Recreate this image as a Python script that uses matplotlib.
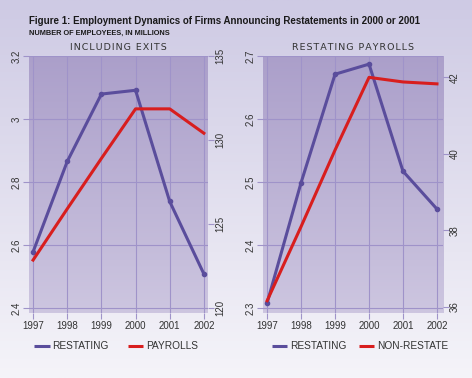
import numpy as np
import matplotlib
matplotlib.use("Agg")
import matplotlib.pyplot as plt
from matplotlib.colors import LinearSegmentedColormap
from matplotlib.lines import Line2D

plt.rcParams['font.family'] = ['Liberation Sans', 'DejaVu Sans']

years = [1997, 1998, 1999, 2000, 2001, 2002]

# left panel: including exits
incl_restating = [2.578, 2.865, 3.079, 3.091, 2.738, 2.508]
incl_payrolls = [122.85, 125.9, 128.9, 131.85, 131.85, 130.4]

# right panel: restating payrolls
pay_restating = [2.308, 2.499, 2.671, 2.687, 2.517, 2.457]
pay_nonrestate = [36.16, 38.1, 40.1, 42.0, 41.88, 41.83]

left_ticks = [2.4, 2.6, 2.8, 3.0, 3.2]
left_labels = ['2.4', '2.6', '2.8', '3', '3.2']
left_rticks = [120, 125, 130, 135]
right_ticks = [2.3, 2.4, 2.5, 2.6, 2.7]
right_labels = ['2.3', '2.4', '2.5', '2.6', '2.7']
right_rticks = [36, 38, 40, 42]

PURPLE = '#5a4d9c'
RED = '#d81e1e'
GRID = '#9f93c9'
TXT = '#333333'

fig = plt.figure(figsize=(4.72, 3.78), dpi=100)

# figure background gradient
bg = fig.add_axes([0, 0, 1, 1], zorder=-10)
bg_cmap = LinearSegmentedColormap.from_list('bg', ['#f5f4f9', '#cecae4'])
bg.imshow(np.linspace(0, 1, 256).reshape(-1, 1), cmap=bg_cmap, aspect='auto',
          origin='lower', extent=[0, 1, 0, 1])
bg.set_axis_off()

plot_cmap = LinearSegmentedColormap.from_list('pa', ['#cdc6e0', '#ab9fca'])


def make_panel(rect, title, ys_left, ys_right, xlim, ylim, rlim, lticks, llabels,
               rticks, names, leg_x, colsp):
    ax = fig.add_axes(rect)
    ax.imshow(np.linspace(0, 1, 256).reshape(-1, 1), cmap=plot_cmap, aspect='auto',
              origin='lower', extent=[0, 1, 0, 1], transform=ax.transAxes, zorder=0)
    ax.set_xlim(xlim)
    ax.set_ylim(ylim)
    for s in ax.spines.values():
        s.set_visible(False)
    ax.set_xticks(years)
    ax.set_xticklabels([str(y) for y in years])
    ax.set_yticks(lticks)
    ax.set_yticklabels(llabels, rotation=90, va='center')
    ax.tick_params(colors=GRID, labelcolor=TXT, labelsize=7, length=4, width=0.8, pad=2)
    ax.tick_params(axis='y', pad=1)
    ax.grid(True, color=GRID, linewidth=0.8)
    ax.set_axisbelow(True)
    ax.plot(years, ys_left, color=PURPLE, linewidth=2.2, marker='o',
            markersize=3, zorder=4)

    ax2 = ax.twinx()
    for s in ax2.spines.values():
        s.set_visible(False)
    ax2.set_ylim(rlim)
    ax2.set_yticks(rticks)
    ax2.set_yticklabels([str(t) for t in rticks], rotation=90, va='center')
    ax2.tick_params(colors=GRID, labelcolor=TXT, labelsize=7, length=4, width=0.8, pad=1)
    ax2.plot(years, ys_right, color=RED, linewidth=2.2, zorder=3)

    spaced = '\u200a'.join(list(title))
    ax.text(0.5, 1.014, spaced, transform=ax.transAxes, ha='center', va='bottom',
            fontsize=6.8, color=TXT, family=['DejaVu Sans'])

    leg = ax.legend([Line2D([], [], color=PURPLE, linewidth=2.2, solid_capstyle='butt'),
                     Line2D([], [], color=RED, linewidth=2.2, solid_capstyle='butt')], names,
                    loc='upper left', bbox_to_anchor=(leg_x, -0.11), ncol=2,
                    frameon=False, fontsize=7.3, handlelength=1.5, handletextpad=0.3,
                    columnspacing=colsp, borderaxespad=0, borderpad=0)
    for t in leg.get_texts():
        t.set_color(TXT)
    return ax, ax2


make_panel([0.0614, 0.172, 0.3792, 0.680], 'INCLUDING EXITS', incl_restating,
           incl_payrolls, (1996.88, 2002.12), (2.384, 3.2), (119.7, 135),
           left_ticks, left_labels, left_rticks, ['RESTATING', 'PAYROLLS'], 0.03, 1.9)

make_panel([0.5566, 0.172, 0.3814, 0.680], 'RESTATING PAYROLLS', pay_restating,
           pay_nonrestate, (1996.87, 2002.17), (2.292, 2.7), (35.84, 42.56),
           right_ticks, right_labels, right_rticks, ['RESTATING', 'NON-RESTATE'], 0.05, 1.2)

fig.text(0.0614, 0.945, 'Figure 1: Employment Dynamics of Firms Announcing Restatements in 2000 or 2001',
         fontsize=7.0, fontweight='bold', color='#1a1a1a', va='center')
fig.text(0.0614, 0.912, 'NUMBER OF EMPLOYEES, IN MILLIONS', fontsize=5.3,
         fontweight='bold', color='#1a1a1a', va='center')

fig.savefig('out.png', dpi=100)
